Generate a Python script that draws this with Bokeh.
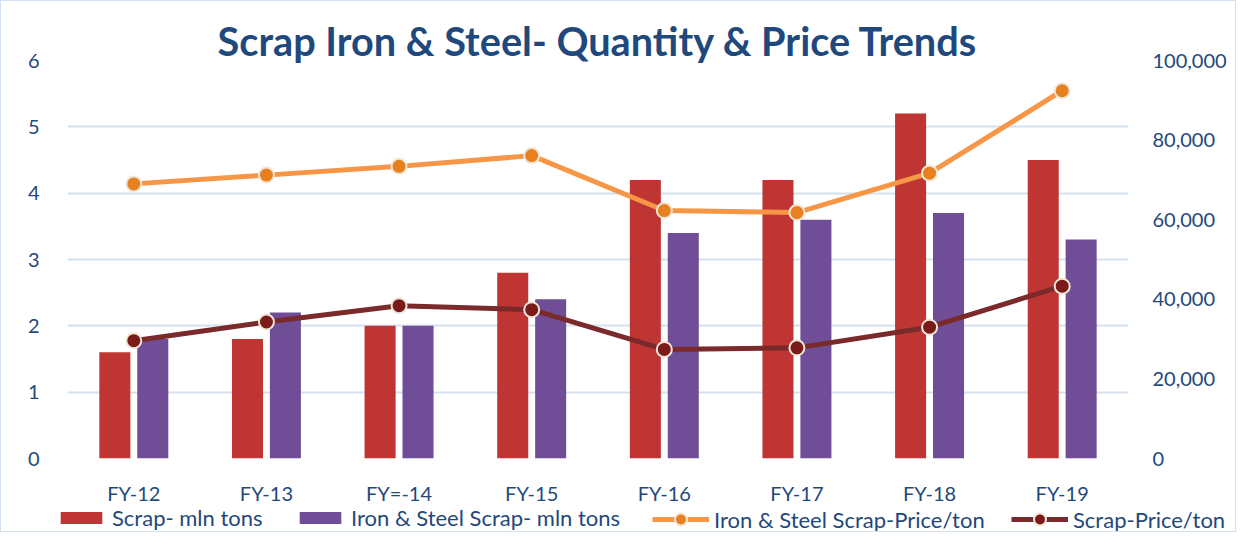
from bokeh.plotting import figure
from bokeh.layouts import column
from bokeh.models import (FactorRange, Range1d, LinearAxis, NumeralTickFormatter,
                          FixedTicker, Legend, LegendItem, ColumnDataSource)
from bokeh.transform import dodge
from bokeh.embed import file_html
from bokeh.resources import INLINE

categories = ["FY-12", "FY-13", "FY=-14", "FY-15", "FY-16", "FY-17", "FY-18", "FY-19"]
scrap_qty = [1.6, 1.8, 2.0, 2.8, 4.2, 4.2, 5.2, 4.5]
iron_steel_qty = [1.8, 2.2, 2.0, 2.4, 3.4, 3.6, 3.7, 3.3]
iron_steel_price = [69000, 71200, 73400, 76100, 62300, 61800, 71700, 92400]
scrap_price = [29600, 34300, 38400, 37400, 27400, 27800, 33000, 43300]
left_ticks = [0, 1, 2, 3, 4, 5, 6]
right_ticks = [0, 20000, 40000, 60000, 80000, 100000]
series_names = ["Scrap- mln tons", "Iron & Steel Scrap- mln tons",
                "Iron & Steel Scrap-Price/ton", "Scrap-Price/ton"]

TXT = "#1F497D"
FONT = "Lato"
GRID = "#D6E1F0"
RED, PURPLE, ORANGE, DARK = "#BE3533", "#6F4E97", "#F79646", "#7A2A2A"
ORANGE_M, DARK_M, EDGE = "#E9801F", "#7A1A1A", "#F1E7D6"

src = ColumnDataSource(dict(cat=categories, sq=scrap_qty, iq=iron_steel_qty,
                            ip=iron_steel_price, sp=scrap_price))

p = figure(x_range=FactorRange(factors=categories), y_range=Range1d(0, 6),
           width=1234, height=506, output_backend="svg", toolbar_location=None,
           min_border_left=66, min_border_top=59, min_border_right=107, min_border_bottom=41)
p.outline_line_color = None
p.background_fill_color = "white"
p.border_fill_color = "white"

p.title.text = "Scrap Iron & Steel- Quantity & Price Trends"
p.title.align = "center"
p.title.offset = 10
p.title.text_font = FONT
p.title.text_font_style = "bold"
p.title.text_font_size = "39.7px"
p.title.text_color = TXT
p.title.standoff = -6

p.extra_y_ranges = {"price": Range1d(0, 100000)}

p.vbar(x=dodge("cat", -0.143, range=p.x_range), top="sq", width=0.234, source=src,
       fill_color=RED, line_color=None)
p.vbar(x=dodge("cat", 0.143, range=p.x_range), top="iq", width=0.234, source=src,
       fill_color=PURPLE, line_color=None)
p.line(x="cat", y="ip", source=src, y_range_name="price", line_color=ORANGE, line_width=5)
p.scatter(x="cat", y="ip", source=src, y_range_name="price", size=15,
          fill_color=ORANGE_M, line_color=EDGE, line_width=2)
p.line(x="cat", y="sp", source=src, y_range_name="price", line_color=DARK, line_width=5)
p.scatter(x="cat", y="sp", source=src, y_range_name="price", size=15,
          fill_color=DARK_M, line_color=EDGE, line_width=2)

p.yaxis.ticker = FixedTicker(ticks=left_ticks)
for ax in [p.yaxis[0], p.xaxis[0]]:
    ax.axis_line_color = None
    ax.major_tick_line_color = None
    ax.minor_tick_line_color = None
    ax.major_label_text_color = TXT
    ax.major_label_text_font = FONT
    ax.major_label_text_font_size = "20px"
p.yaxis.major_label_standoff = 22
p.xaxis.major_label_standoff = 16

ra = LinearAxis(y_range_name="price", ticker=FixedTicker(ticks=right_ticks),
                formatter=NumeralTickFormatter(format="0,0"))
ra.axis_line_color = None
ra.major_tick_line_color = None
ra.minor_tick_line_color = None
ra.major_label_text_color = TXT
ra.major_label_text_font = FONT
ra.major_label_text_font_size = "20px"
ra.major_label_standoff = 18
p.add_layout(ra, "right")

p.xgrid.grid_line_color = None
p.ygrid.grid_line_color = GRID
p.ygrid.grid_line_width = 2

# legend strip (separate figure so that the legend can extend past the plot frame)
lf = figure(width=1234, height=24, output_backend="svg", toolbar_location=None,
            x_range=Range1d(0, 1), y_range=Range1d(0, 1),
            x_axis_type=None, y_axis_type=None, min_border=0)
if "frame_align" in lf.properties():
    lf.frame_align = False
    p.frame_align = False
lf.outline_line_color = None
lf.xgrid.visible = False
lf.ygrid.visible = False
# legend-key renderers: one point placed outside the visible range, so they draw nothing
off = ColumnDataSource(dict(x=[-10], y=[-10]))
k1 = lf.vbar(x="x", top="y", width=0.1, source=off, fill_color=RED, line_color=None)
k2 = lf.vbar(x="x", top="y", width=0.1, source=off, fill_color=PURPLE, line_color=None)
k3l = lf.line(x="x", y="y", source=off, line_color=ORANGE, line_width=5)
k3m = lf.scatter(x="x", y="y", source=off, size=15, fill_color=ORANGE_M, line_color=EDGE, line_width=2)
k4l = lf.line(x="x", y="y", source=off, line_color=DARK, line_width=5)
k4m = lf.scatter(x="x", y="y", source=off, size=15, fill_color=DARK_M, line_color=EDGE, line_width=2)

def mk_legend(label, renderers, x, gw, gh, y):
    lg = Legend(items=[LegendItem(label=label, renderers=renderers)],
                location=(x, y), orientation="horizontal",
                glyph_width=gw, glyph_height=gh, label_standoff=5,
                label_text_font=FONT, label_text_font_size="22px", label_text_color=TXT,
                label_height=20, padding=0, margin=0, spacing=0,
                border_line_color=None, background_fill_alpha=0)
    lf.add_layout(lg)

mk_legend(series_names[0], [k1], 54, 52, 15, 0)
mk_legend(series_names[1], [k2], 293, 52, 15, 0)
mk_legend(series_names[2], [k3l, k3m], 651, 57, 30, -3)
mk_legend(series_names[3], [k4l, k4m], 1010, 57, 30, -3)

layout = column(p, lf, spacing=0)
layout.styles = {"border": "1px solid #D3E0F1"}

open("out.html", "w").write(file_html(layout, INLINE))
